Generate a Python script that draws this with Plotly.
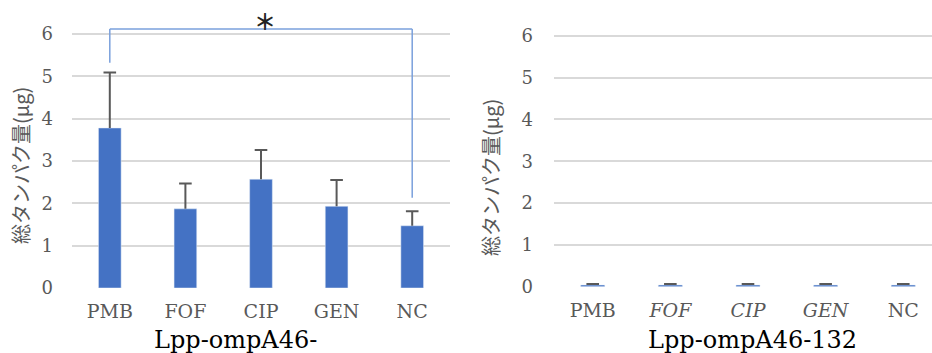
import plotly.graph_objects as go

categories = ["PMB", "FOF", "CIP", "GEN", "NC"]
left_values = [3.78, 1.87, 2.57, 1.93, 1.47]
left_errors = [1.31, 0.60, 0.69, 0.62, 0.34]
right_values = [0.04, 0.04, 0.04, 0.04, 0.04]
right_errors = [0.025, 0.025, 0.025, 0.025, 0.025]
right_ticktext = ["PMB", "<i>FOF</i>", "<i>CIP</i>", "<i>GEN</i>", "NC"]
y_ticks = [0, 1, 2, 3, 4, 5, 6]
left_title = "Lpp-ompA46-"
right_title = "Lpp-ompA46-132"
y_title = "総タンパク量(μg)"
sig_label = "＊"
sig_pair = ("PMB", "NC")
sig_bracket_y = 6.12
sig_leg_ends = (5.32, 2.13)

W, H = 932, 353
BAR = "#4472C4"
ERR = "#595959"
GRID = "#d9d9d9"
TICK = "#595959"
SERIF = "DejaVu Serif"
CJK = "Noto Sans CJK JP"
YMAX = 6.8

def ydom(zero_px, six_px):
    ppu = (zero_px - six_px) / 6.0
    top_px = zero_px - YMAX * ppu
    return [(H - zero_px) / H, (H - top_px) / H]

fig = go.Figure()

def add_series(values, errors, width, xa, ya):
    fig.add_trace(go.Bar(x=categories, y=values, marker_color=BAR, width=width,
                         xaxis=xa, yaxis=ya, showlegend=False, hoverinfo="skip"))
    tops = [v + e for v, e in zip(values, errors)]
    # upper error bar: stem from bar top to value+error, cap drawn as marker
    fig.add_trace(go.Scatter(
        x=categories, y=tops, mode="markers",
        marker=dict(symbol="line-ew", size=9, line=dict(color=ERR, width=2)),
        error_y=dict(type="data", array=[0]*len(errors), arrayminus=errors,
                     symmetric=False, color=ERR, thickness=2, width=0),
        xaxis=xa, yaxis=ya, showlegend=False, hoverinfo="skip"))

add_series(left_values, left_errors, 0.3, "x", "y")
add_series(right_values, right_errors, 0.31, "x2", "y2")

axis_common = dict(showline=False, zeroline=False, ticks="", automargin=False)
fig.update_layout(
    width=W, height=H, margin=dict(l=0, r=0, t=0, b=0),
    paper_bgcolor="white", plot_bgcolor="white",
    xaxis=dict(domain=[72/W, 450/W], range=[-0.5, 4.5], type="category",
               tickfont=dict(family=SERIF, size=19, color=TICK), showgrid=False,
               anchor="y", ticklabelstandoff=10, **axis_common),
    yaxis=dict(domain=ydom(288, 34), range=[0, YMAX], tickvals=y_ticks,
               tickfont=dict(family=SERIF, size=18, color=TICK),
               showgrid=True, gridcolor=GRID, gridwidth=1.5, anchor="x",
               ticklabelstandoff=18, **axis_common),
    xaxis2=dict(domain=[553.9/W, 1.0], range=[-0.5, 4.37], type="category",
                tickvals=categories, ticktext=right_ticktext,
                tickfont=dict(family=SERIF, size=19, color=TICK), showgrid=False,
                anchor="y2", ticklabelstandoff=10, **axis_common),
    yaxis2=dict(domain=ydom(286.7, 35.7), range=[0, YMAX], tickvals=y_ticks,
                tickfont=dict(family=SERIF, size=18, color=TICK),
                showgrid=True, gridcolor=GRID, gridwidth=1.5, anchor="x2",
                ticklabelstandoff=20, **axis_common),
    bargap=0.7,
)

# significance bracket
a, b = sig_pair
br = dict(color="#7aa0dc", width=1.5)
fig.add_shape(type="line", xref="x", yref="y", x0=a, x1=a, y0=sig_leg_ends[0], y1=sig_bracket_y, line=br)
fig.add_shape(type="line", xref="x", yref="y", x0=a, x1=b, y0=sig_bracket_y, y1=sig_bracket_y, line=br)
fig.add_shape(type="line", xref="x", yref="y", x0=b, x1=b, y0=sig_leg_ends[1], y1=sig_bracket_y, line=br)
fig.add_annotation(xref="paper", yref="paper", x=265/W, y=(H-20)/H, text="<b>" + sig_label + "</b>",
                   xanchor="center", yanchor="middle",
                   showarrow=False, font=dict(family=CJK, size=22, color="#222"))

# y-axis titles
for xc, yc in [(20, 166), (490, 177)]:
    fig.add_annotation(xref="paper", yref="paper", x=xc/W, y=(H-yc)/H, text=y_title,
                       textangle=-90, showarrow=False, xanchor="center", yanchor="middle",
                       font=dict(family=CJK, size=20, color=TICK))

# chart titles
for xc, txt in [(235, left_title), (752, right_title)]:
    fig.add_annotation(xref="paper", yref="paper", x=xc/W, y=(H-340)/H, text=txt,
                       showarrow=False, xanchor="center", yanchor="middle",
                       font=dict(family=SERIF, size=24, color="black"))

fig.write_html("out.html", config={"displayModeBar": False},
               post_script="document.body.style.margin='0';document.body.style.overflow='hidden';")
